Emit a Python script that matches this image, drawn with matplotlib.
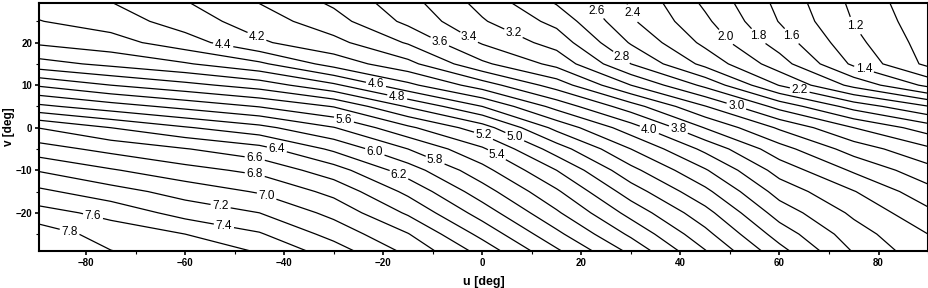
import numpy as np
import matplotlib
matplotlib.use("Agg")
import matplotlib.pyplot as plt
from matplotlib.ticker import MultipleLocator

plt.rcParams["font.family"] = ["Liberation Sans", "DejaVu Sans"]

# grid (value of the field at each node)
u_deg = [-90, -75, -60, -45, -30, -15, 0, 15, 30, 45, 60, 75, 90]
v_deg = [-30, -25, -20, -15, -10, -5, 0, 5, 10, 15, 20, 25, 30]

z_grid = [
    [7.97, 7.83, 7.72, 7.62, 7.34, 6.99, 6.57, 6.08, 5.60, 5.05, 4.51, 4.01, 3.68],  # v=-30
    [7.92, 7.71, 7.60, 7.42, 7.13, 6.81, 6.34, 5.85, 5.36, 4.86, 4.31, 3.89, 3.60],  # v=-25
    [7.68, 7.54, 7.32, 7.20, 6.94, 6.57, 6.11, 5.63, 5.13, 4.67, 4.11, 3.76, 3.45],  # v=-20
    [7.45, 7.28, 7.12, 6.98, 6.74, 6.35, 5.89, 5.43, 4.90, 4.45, 3.92, 3.61, 3.27],  # v=-15
    [7.19, 7.02, 6.87, 6.75, 6.49, 6.10, 5.67, 5.20, 4.66, 4.22, 3.72, 3.37, 3.07],  # v=-10
    [6.89, 6.74, 6.61, 6.47, 6.16, 5.80, 5.43, 4.90, 4.40, 3.95, 3.48, 3.11, 2.84],  # v=-5
    [6.60, 6.40, 6.22, 6.06, 5.81, 5.44, 5.09, 4.54, 4.09, 3.59, 3.17, 2.80, 2.50],  # v=0
    [6.05, 5.89, 5.74, 5.59, 5.39, 4.98, 4.60, 4.13, 3.69, 3.21, 2.73, 2.32, 2.01],  # v=5
    [5.58, 5.40, 5.26, 5.11, 4.84, 4.45, 4.10, 3.71, 3.20, 2.75, 2.19, 1.74, 1.35],  # v=10
    [5.08, 4.95, 4.82, 4.64, 4.32, 4.06, 3.64, 3.34, 2.80, 2.34, 1.89, 1.36, 0.95],  # v=15
    [4.77, 4.68, 4.49, 4.23, 4.06, 3.78, 3.38, 3.12, 2.58, 2.15, 1.71, 1.26, 0.91],  # v=20
    [4.61, 4.51, 4.30, 4.10, 3.88, 3.55, 3.22, 2.94, 2.43, 2.04, 1.59, 1.19, 0.87],  # v=25
    [4.52, 4.39, 4.20, 3.98, 3.75, 3.46, 3.12, 2.76, 2.37, 1.95, 1.54, 1.15, 0.83],  # v=30
]

contour_levels = [round(1.0 + 0.2 * i, 1) for i in range(35)]  # 1.0 ... 7.8

# where each level carries its label
label_spots = {
    4.4: (-52.5, 18.3), 4.2: (-45.9, 20.4), 3.6: (-9.2, 18.8), 3.4: (-3.2, 20.2),
    3.2: (5.5, 20.2), 2.6: (22.2, 26.5), 2.4: (29.7, 26.5), 2.0: (48.5, 20.6),
    1.8: (54.9, 20.6), 1.6: (61.6, 20.6), 1.2: (74.7, 23.5), 2.8: (27.7, 15.9),
    1.4: (76.5, 11.5), 2.2: (64.0, 8.4), 3.0: (51.3, 5.1), 4.6: (-21.5, 10.0),
    4.8: (-17.1, 7.7), 5.6: (-27.8, 2.5), 4.0: (34.1, 0.6), 3.8: (39.8, 0.2),
    5.2: (0.5, -1.2), 5.0: (6.9, -1.2), 6.4: (-41.3, -4.3), 6.6: (-45.9, -6.9),
    6.8: (-45.9, -10.7), 7.0: (-43.7, -16.6), 7.2: (-52.8, -18.2), 7.4: (-52.5, -25.2),
    7.6: (-78.4, -19.8), 7.8: (-83.4, -24.8), 6.0: (-21.3, -4.3), 5.8: (-9.2, -6.7),
    5.4: (3.1, -6.0), 6.2: (-16.7, -10.7),
}

fig = plt.figure(figsize=(9.29, 2.88), dpi=100)
ax = fig.add_axes([0.042, 0.1295, 0.957, 0.86])
ax.set_xlim(-89.5, 90)
ax.set_ylim(-28.9, 29.3)

# one contour set per level so each label lands on its own line
for lev in contour_levels:
    cs = ax.contour(u_deg, v_deg, z_grid, levels=[lev], colors="black", linewidths=0.9)
    if lev in label_spots:
        texts = ax.clabel(cs, manual=[label_spots[lev]], inline=True, inline_spacing=2,
                          fmt="%.1f", fontsize=8.5)
        for t in texts:
            t.set_rotation(0)  # labels stand upright in the original

ax.set_xticks(range(-80, 81, 20))
ax.set_yticks(range(-20, 21, 10))
ax.xaxis.set_minor_locator(MultipleLocator(10))
ax.yaxis.set_minor_locator(MultipleLocator(5))
ax.tick_params(which="major", direction="out", length=3, width=1.2, labelsize=7, pad=2)
ax.tick_params(which="minor", direction="out", length=2, width=0.8)
for lab in ax.get_xticklabels() + ax.get_yticklabels():
    lab.set_fontweight("bold")

for sp in ax.spines.values():
    sp.set_linewidth(1.5)

ax.set_xlabel("u [deg]", fontsize=9, fontweight="bold", labelpad=6)
ax.set_ylabel("v [deg]", fontsize=8.5, fontweight="bold")
ax.yaxis.set_label_coords(-0.027, 0.5)

fig.savefig("out.png", dpi=100, facecolor="white")
